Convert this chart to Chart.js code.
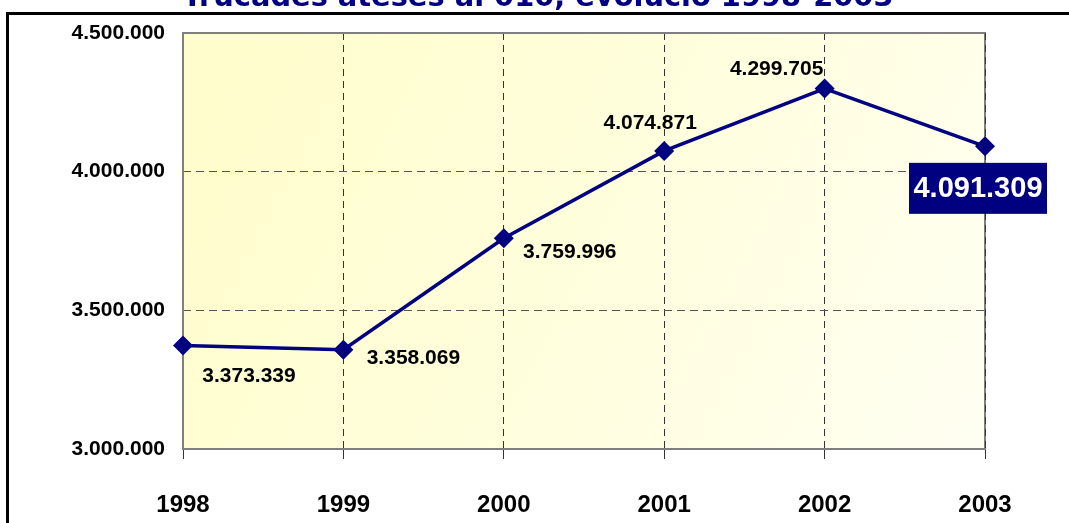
<!DOCTYPE html>
<html lang="ca">

<head>
    <meta charset="UTF-8">
    <title>Trucades ateses al 010</title>
    <script src="https://cdn.jsdelivr.net/npm/chart.js"></script>
    <style>
        body { margin: 0; background: #fff; }
    </style>
</head>

<body>
    <canvas id="grafica" width="1069" height="523"></canvas>

    <script>
        // dades
        const anys = ['1998', '1999', '2000', '2001', '2002', '2003'];
        const trucades = [3373339, 3358069, 3759996, 4074871, 4299705, 4091309];
        const titol = 'Trucades ateses al 010, evolució 1998-2003';

        // desplaçament de les etiquetes respecte del punt (px)
        const etiquetesDx = [66, 70, 66, -14, -48, -7];
        const etiquetesDy = [31, 9, 14, -28, -19, 42];

        const blau = '#000080';
        const lletra = '"Liberation Sans", Arial, sans-serif';

        function ambPunts(v) {
            return String(v).replace(/\B(?=(\d{3})+(?!\d))/g, '.');
        }

        const decoracio = {
            id: 'decoracio',
            beforeDraw(chart) {
                const ctx = chart.ctx;
                const a = chart.chartArea;
                ctx.save();
                // fons groc degradat
                const g = ctx.createLinearGradient(a.left, a.top, a.right, a.bottom);
                g.addColorStop(0, '#FFFDCA');
                g.addColorStop(0.5, '#FFFEDC');
                g.addColorStop(1, '#FFFFF2');
                ctx.fillStyle = g;
                ctx.fillRect(a.left, a.top, a.right - a.left, a.bottom - a.top);
                // marc exterior
                ctx.strokeStyle = '#000';
                ctx.lineWidth = 3;
                ctx.strokeRect(7.5, 13.5, 1200, 600);
                // títol (tallat per dalt)
                let mida = 26;
                ctx.font = 'bold ' + mida + 'px "DejaVu Sans", Verdana, sans-serif';
                mida = mida * 711 / ctx.measureText(titol).width;
                ctx.font = 'bold ' + mida + 'px "DejaVu Sans", Verdana, sans-serif';
                ctx.fillStyle = blau;
                ctx.textAlign = 'center';
                ctx.textBaseline = 'alphabetic';
                ctx.fillText(titol, 538, 6);
                ctx.restore();
            },
            beforeDatasetsDraw(chart) {
                const ctx = chart.ctx;
                const a = chart.chartArea;
                ctx.save();
                ctx.strokeStyle = '#7f7f7f';
                ctx.lineWidth = 2;
                ctx.strokeRect(a.left, a.top, a.right - a.left, a.bottom - a.top);
                // línia discontínua a la vora dreta (2003)
                ctx.strokeStyle = '#333';
                ctx.lineWidth = 1;
                ctx.setLineDash([7, 5]);
                ctx.beginPath();
                ctx.moveTo(a.right + 0.5, a.top);
                ctx.lineTo(a.right + 0.5, a.bottom);
                ctx.stroke();
                ctx.restore();
            },
            afterDatasetsDraw(chart) {
                const ctx = chart.ctx;
                const punts = chart.getDatasetMeta(0).data;
                ctx.save();
                ctx.textAlign = 'center';
                ctx.textBaseline = 'middle';
                punts.forEach((p, i) => {
                    const x = p.x + etiquetesDx[i];
                    const y = p.y + etiquetesDy[i];
                    const text = ambPunts(trucades[i]);
                    if (i === punts.length - 1) {
                        // darrer valor destacat en caixa blava
                        ctx.fillStyle = blau;
                        ctx.fillRect(x - 69, y - 25.5, 138, 51);
                        ctx.font = 'bold 29px ' + lletra;
                        ctx.fillStyle = '#fff';
                        ctx.fillText(text, x, y + 1);
                    } else {
                        ctx.font = 'bold 21px ' + lletra;
                        ctx.fillStyle = '#000';
                        ctx.fillText(text, x, y);
                    }
                });
                ctx.restore();
            }
        };

        const ctx = document.getElementById('grafica').getContext('2d');
        new Chart(ctx, {
            type: 'line',
            data: {
                labels: anys,
                datasets: [{
                    data: trucades,
                    borderColor: blau,
                    backgroundColor: blau,
                    borderWidth: 3.5,
                    tension: 0,
                    pointStyle: 'rectRot',
                    pointRadius: 10,
                    pointHoverRadius: 10,
                    pointBackgroundColor: blau,
                    pointBorderColor: blau,
                    pointBorderWidth: 0
                }]
            },
            options: {
                responsive: false,
                animation: false,
                events: [],
                layout: { padding: { top: 33, right: 84, left: 0, bottom: 0 } },
                plugins: {
                    legend: { display: false },
                    title: { display: false },
                    tooltip: { enabled: false }
                },
                scales: {
                    x: {
                        offset: false,
                        afterFit: s => { s.height = 74; },
                        grid: {
                            color: ctx => (ctx.index === 0 || ctx.index === anys.length - 1) ? 'rgba(0,0,0,0)' : '#333',
                            lineWidth: 1,
                            tickLength: 10,
                            tickColor: '#333'
                        },
                        border: { display: false, dash: [7, 5] },
                        ticks: {
                            color: '#000',
                            padding: 32,
                            maxRotation: 0,
                            font: { family: lletra, size: 24, weight: 'bold' }
                        }
                    },
                    y: {
                        min: 3000000,
                        max: 4500000,
                        afterFit: s => { s.width = 183; },
                        grid: {
                            color: ctx => (ctx.tick && (ctx.tick.value === 3000000 || ctx.tick.value === 4500000)) ? 'rgba(0,0,0,0)' : '#555',
                            lineWidth: 1,
                            drawTicks: false
                        },
                        border: { display: false, dash: [8, 5] },
                        ticks: {
                            stepSize: 500000,
                            color: '#000',
                            padding: 18,
                            font: { family: lletra, size: 21, weight: 'bold' },
                            callback: v => ambPunts(v)
                        }
                    }
                }
            },
            plugins: [decoracio]
        });
    </script>
</body>

</html>
